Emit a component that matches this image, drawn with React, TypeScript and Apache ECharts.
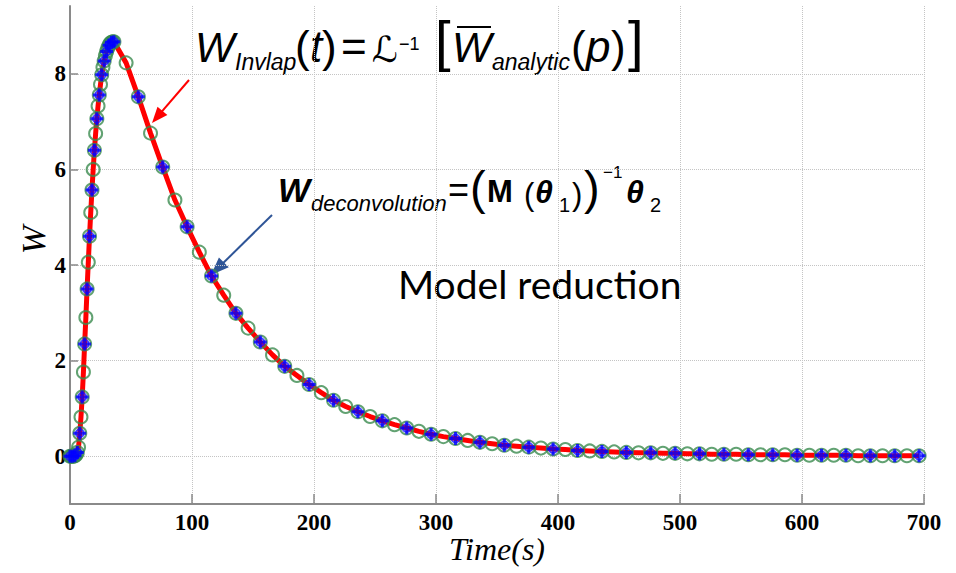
import React, { useEffect, useRef } from "react";
import * as echarts from "echarts";

// ---- data ----
const timeS = [
  0, 1, 2, 3, 4, 5, 6, 7, 8, 9, 10, 11, 12, 13, 14, 15, 16, 17, 18, 19, 20, 21, 22, 23, 24, 25, 26, 27, 28, 29,
  30, 31, 32, 33, 34, 35, 36, 46, 56, 66, 76, 86, 96, 106, 116, 126, 136, 146, 156, 166, 176, 186, 196, 206,
  216, 226, 236, 246, 256, 266, 276, 286, 296, 306, 316, 326, 336, 346, 356, 366, 376, 386, 396, 406, 416,
  426, 436, 446, 456, 466, 476, 486, 496, 506, 516, 526, 536, 546, 556, 566, 576, 586, 596, 606, 616, 626,
  636, 646, 656, 666, 676, 686, 696,
];
const wValues = [
  0, 0, 0, 0, 0.01, 0.03, 0.08, 0.19, 0.48, 0.82, 1.24, 1.76, 2.35, 2.9, 3.5, 4.06, 4.6, 5.1, 5.57, 6.0, 6.4,
  6.75, 7.06, 7.33, 7.56, 7.78, 7.98, 8.14, 8.27, 8.38, 8.47, 8.54, 8.6, 8.64, 8.66, 8.67, 8.67, 8.23, 7.52,
  6.76, 6.05, 5.36, 4.8, 4.27, 3.77, 3.37, 2.99, 2.68, 2.39, 2.12, 1.88, 1.69, 1.5, 1.33, 1.17, 1.04, 0.93,
  0.83, 0.74, 0.66, 0.59, 0.52, 0.46, 0.41, 0.37, 0.33, 0.29, 0.26, 0.23, 0.21, 0.19, 0.17, 0.15, 0.14, 0.12,
  0.11, 0.1, 0.09, 0.08, 0.07, 0.07, 0.06, 0.06, 0.05, 0.05, 0.04, 0.04, 0.04, 0.03, 0.03, 0.03, 0.03, 0.02,
  0.02, 0.02, 0.02, 0.02, 0.01, 0.01, 0.01, 0.01, 0.01, 0.01,
];
const yTickValues = [0, 2, 4, 6, 8];
const xRange = [0, 700];
const yRange = [-1, 9.42];

const SANS = '"Liberation Sans", Arial, sans-serif';
const SERIF = '"Liberation Serif", "Times New Roman", serif';

function tx(
  text: string,
  x: number,
  base: number,
  size: number,
  fontStyle = "normal",
  fontWeight = "normal",
  fontFamily = SANS
) {
  return {
    type: "text",
    x,
    y: base - 0.35 * size,
    silent: true,
    style: {
      text,
      fontSize: size,
      fontStyle,
      fontWeight,
      fontFamily,
      fill: "#000",
      align: "left",
      verticalAlign: "middle",
    },
  };
}

function arrow(x1: number, y1: number, x2: number, y2: number, color: string, lw: number, hl: number, hw: number) {
  const dx = x2 - x1;
  const dy = y2 - y1;
  const len = Math.sqrt(dx * dx + dy * dy);
  const ux = dx / len;
  const uy = dy / len;
  const bx = x2 - ux * hl;
  const by = y2 - uy * hl;
  const px = -uy * (hw / 2);
  const py = ux * (hw / 2);
  return [
    { type: "line", silent: true, shape: { x1, y1, x2: bx + ux * 2, y2: by + uy * 2 }, style: { stroke: color, lineWidth: lw } },
    {
      type: "polygon",
      silent: true,
      shape: { points: [[x2, y2], [bx + px, by + py], [bx - px, by - py]] },
      style: { fill: color },
    },
  ];
}

export default function App() {
  const ref = useRef<HTMLDivElement>(null);

  useEffect(() => {
    document.body.style.margin = "0";
    document.body.style.overflow = "hidden";
    if (!ref.current) return;
    const chart = echarts.init(ref.current, undefined, { renderer: "svg" });

    const allPts = timeS.map((t, i) => [t, wValues[i]]);
    const plusPts = allPts.filter((_, i) => i % 2 === 0);

    const graphics: any[] = [
      // y axis name
      {
        type: "text",
        x: 33,
        y: 240,
        rotation: Math.PI / 2,
        silent: true,
        style: {
          text: "W",
          fontSize: 34,
          fontStyle: "italic",
          fontFamily: SERIF,
          fill: "#000",
          align: "center",
          verticalAlign: "middle",
        },
      },
      // x axis name
      {
        type: "text",
        x: 497,
        y: 549,
        silent: true,
        style: {
          text: "Time(s)",
          fontSize: 32,
          fontStyle: "italic",
          fontFamily: SERIF,
          fill: "#000",
          align: "center",
          verticalAlign: "middle",
        },
      },
      // formula 1
      tx("W", 195, 62, 42, "italic"),
      tx("Invlap", 235, 70, 23, "italic"),
      tx("(", 295, 62, 44),
      tx("t", 310, 62, 44, "italic"),
      tx(")", 322, 62, 44),
      tx("=", 341, 62, 44),
      tx("ℒ", 372, 62, 36, "normal", "normal", '"DejaVu Serif", "DejaVu Sans", serif'),
      tx("−1", 399, 50, 18),
      tx("[", 435, 60, 56),
      tx("W", 452, 62, 42, "italic"),
      { type: "line", silent: true, shape: { x1: 457, y1: 27, x2: 491, y2: 27 }, style: { stroke: "#000", lineWidth: 2 } },
      tx("analytic", 492, 70, 23, "italic"),
      tx("(", 571, 62, 44),
      tx("p", 586, 62, 44, "italic"),
      tx(")", 611, 62, 44),
      tx("]", 628, 60, 56),
      // formula 2
      tx("W", 278, 202, 34, "italic", "bold"),
      tx("deconvolution", 311, 211, 22, "italic"),
      tx("=", 448, 202, 36),
      tx("(", 470, 204, 47),
      tx("M", 487, 202, 31, "normal", "bold"),
      tx("(", 524, 205, 31),
      tx("θ", 535, 203, 32, "italic", "bold"),
      tx("1", 559, 212, 20),
      tx(")", 572, 205, 31),
      tx(")", 584, 204, 47),
      tx("−1", 603, 178, 17),
      tx("θ", 626, 203, 32, "italic", "bold"),
      tx("2", 650, 212, 20),
      // caption
      tx("Model reduction", 398, 298, 39, "normal", "normal", 'Lato, "Open Sans", sans-serif'),
      ...arrow(189, 80, 152, 123, "#ff0000", 2, 16, 13),
      ...arrow(272, 215, 211, 275, "#2f5597", 2, 18, 14),
    ];

    chart.setOption({
      animation: false,
      backgroundColor: "#ffffff",
      grid: { left: 70, right: 32, top: 6, bottom: 69, containLabel: false, outerBoundsMode: "none" },
      xAxis: {
        type: "value",
        min: xRange[0],
        max: xRange[1],
        interval: 100,
        axisLine: { show: true, onZero: false, lineStyle: { color: "#8a8a8a", width: 2 } },
        axisTick: { show: true, inside: true, length: 10, lineStyle: { color: "#8a8a8a", width: 1.5 } },
        axisLabel: { fontFamily: SERIF, fontWeight: "bold", fontSize: 23, color: "#000", margin: 7 },
        splitLine: { show: true, lineStyle: { color: "#c4c4c4", type: "dotted", width: 1 } },
      },
      yAxis: {
        type: "value",
        min: yRange[0],
        max: yRange[1],
        splitNumber: 5,
        axisLine: { show: true, onZero: false, lineStyle: { color: "#8a8a8a", width: 2 } },
        axisTick: {
          show: true,
          inside: true,
          length: 8,
          customValues: yTickValues,
          lineStyle: { color: "#8a8a8a", width: 1.5 },
        },
        axisLabel: {
          fontFamily: SERIF,
          fontWeight: "bold",
          fontSize: 23,
          color: "#000",
          margin: 4,
          customValues: yTickValues,
          showMinLabel: true,
          showMaxLabel: true,
        },
        splitLine: {
          show: true,
          lineStyle: { color: "#c4c4c4", type: "dotted", width: 1 },
        },
      },
      series: [
        {
          type: "line",
          data: allPts,
          symbol: "none",
          showSymbol: false,
          lineStyle: { color: "#ff0000", width: 5 },
          z: 2,
        },
        {
          type: "scatter",
          data: allPts,
          symbol: "circle",
          symbolSize: 13,
          clip: false,
          itemStyle: { color: "rgba(0,0,0,0)", borderColor: "#3b8b4f", borderWidth: 2 },
          z: 3,
        },
        {
          type: "scatter",
          data: plusPts,
          symbol: "circle",
          symbolSize: 8,
          clip: false,
          itemStyle: { color: "rgba(0,0,0,0)", borderColor: "#1a1aff", borderWidth: 2 },
          z: 4,
        },
        {
          type: "scatter",
          data: plusPts,
          symbol: "path://M0,-10L0,10M-10,0L10,0",
          symbolSize: 13,
          clip: false,
          itemStyle: { color: "rgba(0,0,0,0)", borderColor: "#0000ff", borderWidth: 3 },
          z: 5,
        },
      ],
      graphic: graphics,
    });

    return () => chart.dispose();
  }, []);

  return <div ref={ref} style={{ width: 956, height: 573 }} />;
}
